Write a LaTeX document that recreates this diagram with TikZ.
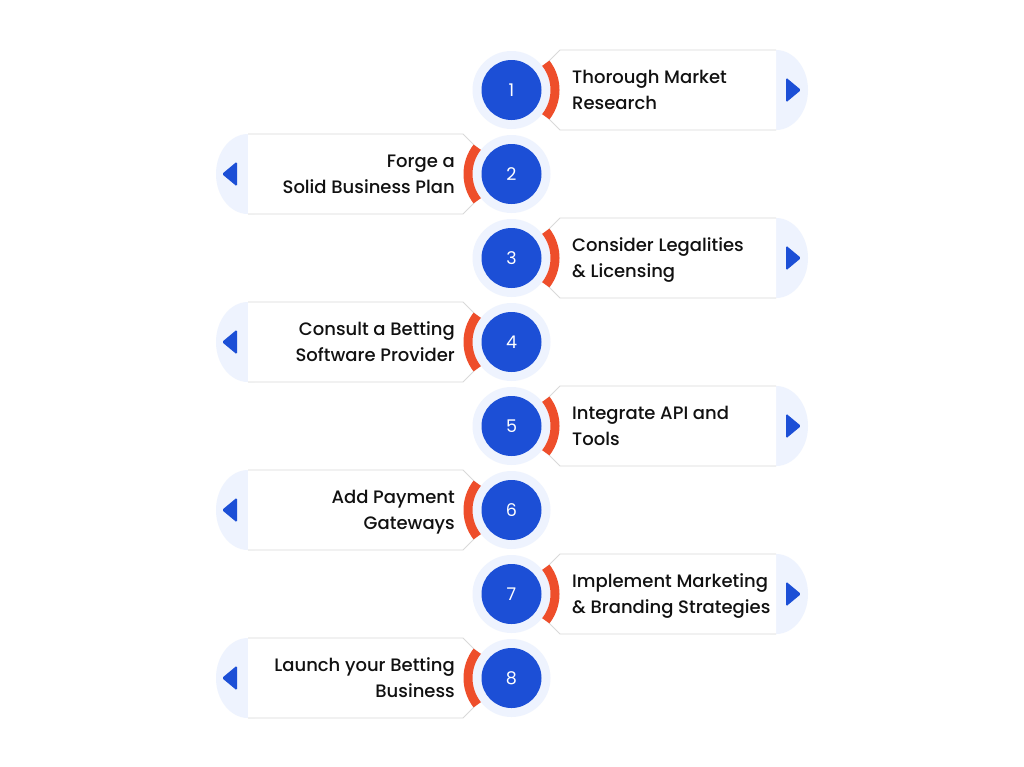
\documentclass[tikz,border=0pt]{standalone}
\usepackage{fontspec}
\setmainfont{Poppins}[UprightFont={* Medium}]
\newfontfamily\numfont{Poppins}
\definecolor{cblue}{HTML}{1C4FD6}
\definecolor{clight}{HTML}{EEF3FE}
\definecolor{corange}{HTML}{EE4E2B}
\definecolor{cgray}{HTML}{D9D9D9}
\definecolor{ctext}{HTML}{111111}
\tikzset{
  ring/.style={circle, fill=clight, minimum size=78pt, inner sep=0pt},
  disc/.style={circle, fill=cblue, minimum size=60pt, inner sep=0pt, text=white, font=\numfont\fontsize{17.5}{20}\selectfont},
  steplabel/.style={font=\fontsize{18}{26}\selectfont, text=ctext, inner sep=0pt},
  boxfill/.style={fill=white},
  boxline/.style={draw=cgray, line width=0.9pt},
  capfill/.style={fill=clight},
  arcline/.style={draw=corange, line width=9pt},
  tri/.style={fill=cblue, rounded corners=1.5pt},
}
\newcommand{\rightrow}[3]{%
  \path[capfill] (770,#2-40) -- (776,#2-40) arc[start angle=-90, end angle=90, x radius=32, y radius=40] -- (770,#2+40) -- cycle;
  \path[boxfill] (520,#2) -- (560,#2-40) -- (776,#2-40) -- (776,#2+40) -- (560,#2+40) -- cycle;
  \draw[boxline] (776,#2-40) -- (560,#2-40) -- (520,#2) -- (560,#2+40) -- (776,#2+40);
  \node[ring] (r#1) at (511.5,#2) {};
  \node[disc] (c#1) at (511.5,#2) {#1};
  \draw[arcline] ([shift={(38:43.5)}]c#1.center) arc[start angle=38, end angle=-38, radius=43.5];
  \path[tri] (786,#2-12.5) -- (801,#2) -- (786,#2+12.5) -- cycle;
  \node[steplabel, anchor=west, align=left] (t#1) at (572,#2+1) {#3};
}
\newcommand{\leftrow}[3]{%
  \path[capfill] (254,#2-40) -- (248,#2-40) arc[start angle=-90, end angle=-270, x radius=32, y radius=40] -- (254,#2+40) -- cycle;
  \path[boxfill] (503,#2) -- (463,#2-40) -- (248,#2-40) -- (248,#2+40) -- (463,#2+40) -- cycle;
  \draw[boxline] (248,#2-40) -- (463,#2-40) -- (503,#2) -- (463,#2+40) -- (248,#2+40);
  \node[ring] (r#1) at (511.5,#2) {};
  \node[disc] (c#1) at (511.5,#2) {#1};
  \draw[arcline] ([shift={(142:43.5)}]c#1.center) arc[start angle=142, end angle=218, radius=43.5];
  \path[tri] (237,#2-12.5) -- (222,#2) -- (237,#2+12.5) -- cycle;
  \node[steplabel, anchor=east, align=right] (t#1) at (455,#2+1) {#3};
}
\begin{document}
\begin{tikzpicture}[x=1pt,y=-1pt]
\useasboundingbox[fill=white] (0,0) rectangle (1024,766);
\rightrow{1}{90}{\strut Thorough Market\\\strut Research}
\leftrow{2}{174}{\strut Forge a\\\strut Solid Business Plan}
\rightrow{3}{258}{\strut Consider Legalities\\\strut \& Licensing}
\leftrow{4}{342}{\strut Consult a Betting\\\strut Software Provider}
\rightrow{5}{426}{\strut Integrate API and\\\strut Tools}
\leftrow{6}{510}{\strut Add Payment\\\strut Gateways}
\rightrow{7}{594}{\strut Implement Marketing\\\strut \& Branding Strategies}
\leftrow{8}{678}{\strut Launch your Betting\\\strut Business}
\end{tikzpicture}
\end{document}
